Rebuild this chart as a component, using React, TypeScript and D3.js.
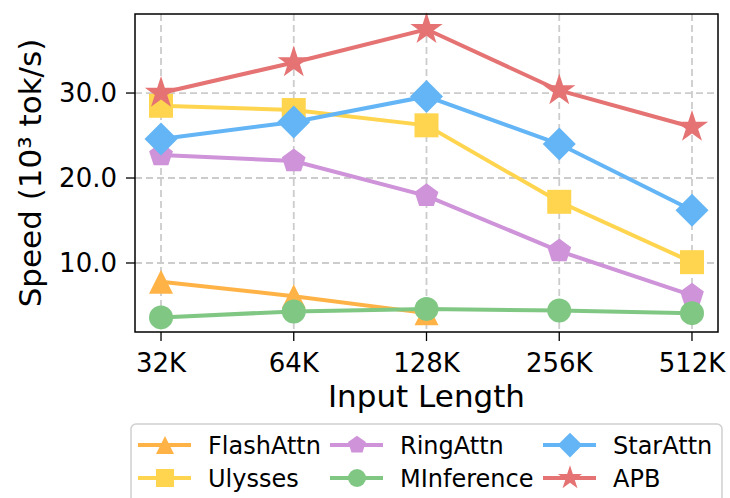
import React, { useEffect, useRef } from "react";
import * as d3 from "d3";

// data
const lengths = ["32K", "64K", "128K", "256K", "512K"];
const yTicks = [10, 20, 30];

const flashAttn = [7.8, 6.1, 4.1];
const ulysses = [28.5, 28.0, 26.2, 17.2, 10.1];
const ringAttn = [22.7, 22.0, 17.9, 11.4, 6.2];
const mInference = [3.6, 4.3, 4.6, 4.4, 4.1];
const starAttn = [24.6, 26.6, 29.6, 24.0, 16.2];
const apb = [30.0, 33.6, 37.5, 30.3, 26.0];

const W = 730, H = 498;
const margin = { top: 14, right: 12, bottom: 166, left: 135 };
const FONT = "DejaVu Sans, sans-serif";

// custom marker shapes, size = radius^2
const poly = (pts: number[][]) => ({
    draw(ctx: any, size: number) {
        const r = Math.sqrt(size);
        pts.forEach((p, i) => i === 0 ? ctx.moveTo(p[0] * r, p[1] * r) : ctx.lineTo(p[0] * r, p[1] * r));
        ctx.closePath();
    }
});
const triangle = poly([[0, -1], [-1, 1], [1, 1]]);
const square = poly([[-1, -1], [1, -1], [1, 1], [-1, 1]]);
const diamond = poly([[0, -1], [1, 0], [0, 1], [-1, 0]]);
const pentagon = poly(d3.range(5).map(i => {
    const a = -Math.PI / 2 + i * 2 * Math.PI / 5;
    return [Math.cos(a), Math.sin(a)];
}));
const star = poly(d3.range(10).map(i => {
    const a = -Math.PI / 2 + i * Math.PI / 5;
    const k = i % 2 === 0 ? 1 : 0.382;
    return [k * Math.cos(a), k * Math.sin(a)];
}));
const circle = {
    draw(ctx: any, size: number) {
        const r = Math.sqrt(size);
        ctx.moveTo(r, 0);
        ctx.arc(0, 0, r, 0, 2 * Math.PI);
    }
};

const series = [
    { name: "FlashAttn", values: flashAttn, color: "#FFB347", shape: triangle, r: 12 },
    { name: "Ulysses", values: ulysses, color: "#FFD54F", shape: square, r: 12 },
    { name: "RingAttn", values: ringAttn, color: "#CE93D8", shape: pentagon, r: 12.5 },
    { name: "MInference", values: mInference, color: "#81C784", shape: circle, r: 12 },
    { name: "StarAttn", values: starAttn, color: "#64B5F6", shape: diamond, r: 16.5 },
    { name: "APB", values: apb, color: "#E57373", shape: star, r: 17 },
];

export default function App() {
    const ref = useRef<SVGSVGElement>(null);

    useEffect(() => {
        const svg = d3.select(ref.current);
        svg.html("");

        const x = d3.scalePoint()
            .domain(lengths)
            .range([margin.left, W - margin.right])
            .padding(0.196);

        const y = d3.scaleLinear()
            .domain([1.88, 39.3])
            .range([H - margin.bottom, margin.top]);

        const bottom = H - margin.bottom;

        // grid
        const grid = svg.append("g")
            .attr("stroke", "#cccccc")
            .attr("stroke-width", 1.8)
            .attr("stroke-dasharray", "7,4");
        lengths.forEach(l => grid.append("line")
            .attr("x1", x(l)).attr("x2", x(l))
            .attr("y1", margin.top).attr("y2", bottom));
        yTicks.forEach(t => grid.append("line")
            .attr("x1", margin.left).attr("x2", W - margin.right)
            .attr("y1", y(t)).attr("y2", y(t)));

        // lines + markers
        const line = d3.line<number>()
            .x((d, i) => x(lengths[i])!)
            .y(d => y(d));

        series.forEach(s => {
            const g = svg.append("g");
            g.append("path")
                .attr("d", line(s.values))
                .attr("fill", "none")
                .attr("stroke", s.color)
                .attr("stroke-width", 4);
            const sym = d3.symbol().type(s.shape as any).size(s.r * s.r);
            g.selectAll("path.m")
                .data(s.values)
                .enter().append("path")
                .attr("class", "m")
                .attr("d", sym)
                .attr("transform", (d, i) => `translate(${x(lengths[i])},${y(d)})`)
                .attr("fill", s.color);
        });

        // frame
        svg.append("rect")
            .attr("x", margin.left).attr("y", margin.top)
            .attr("width", W - margin.right - margin.left)
            .attr("height", bottom - margin.top)
            .attr("fill", "none")
            .attr("stroke", "#000")
            .attr("stroke-width", 1.5);

        // x axis
        lengths.forEach(l => {
            svg.append("line")
                .attr("x1", x(l)).attr("x2", x(l))
                .attr("y1", bottom).attr("y2", bottom + 9)
                .attr("stroke", "#000").attr("stroke-width", 1.3);
            svg.append("text")
                .attr("x", x(l)).attr("y", bottom + 40)
                .attr("text-anchor", "middle")
                .style("font-family", FONT).style("font-size", "26px")
                .text(l);
        });
        svg.append("text")
            .attr("x", (margin.left + W - margin.right) / 2).attr("y", bottom + 75)
            .attr("text-anchor", "middle")
            .style("font-family", FONT).style("font-size", "31px")
            .text("Input Length");

        // y axis
        yTicks.forEach(t => {
            svg.append("line")
                .attr("x1", margin.left - 9).attr("x2", margin.left)
                .attr("y1", y(t)).attr("y2", y(t))
                .attr("stroke", "#000").attr("stroke-width", 1.3);
            svg.append("text")
                .attr("x", margin.left - 18).attr("y", y(t))
                .attr("dy", "0.36em")
                .attr("text-anchor", "end")
                .style("font-family", FONT).style("font-size", "26px")
                .text(t.toFixed(1));
        });
        svg.append("text")
            .attr("transform", `translate(41,${(margin.top + bottom) / 2}) rotate(-90)`)
            .attr("text-anchor", "middle")
            .style("font-family", FONT).style("font-size", "31px")
            .text("Speed (10³ tok/s)");

        // legend
        const lg = svg.append("g");
        lg.append("rect")
            .attr("x", 131).attr("y", 424)
            .attr("width", 591).attr("height", 90)
            .attr("rx", 5)
            .attr("fill", "#fff")
            .attr("stroke", "#d0d0d0")
            .attr("stroke-width", 1.5);
        const colX = [165, 357, 570];
        const rowY = [445, 478];
        series.forEach((s, i) => {
            const cx = colX[Math.floor(i / 2)];
            const cy = rowY[i % 2];
            lg.append("line")
                .attr("x1", cx - 27).attr("x2", cx + 26)
                .attr("y1", cy).attr("y2", cy)
                .attr("stroke", s.color).attr("stroke-width", 4);
            const r = s.r * 0.75;
            lg.append("path")
                .attr("d", d3.symbol().type(s.shape as any).size(r * r)())
                .attr("transform", `translate(${cx},${cy})`)
                .attr("fill", s.color);
            lg.append("text")
                .attr("x", cx + 43).attr("y", cy)
                .attr("dy", "0.36em")
                .style("font-family", FONT).style("font-size", "24px")
                .text(s.name);
        });
    }, []);

    return (
        <svg ref={ref} width={W} height={H}
            style={{ position: "absolute", left: 0, top: 0, background: "#fff" }} />
    );
}
